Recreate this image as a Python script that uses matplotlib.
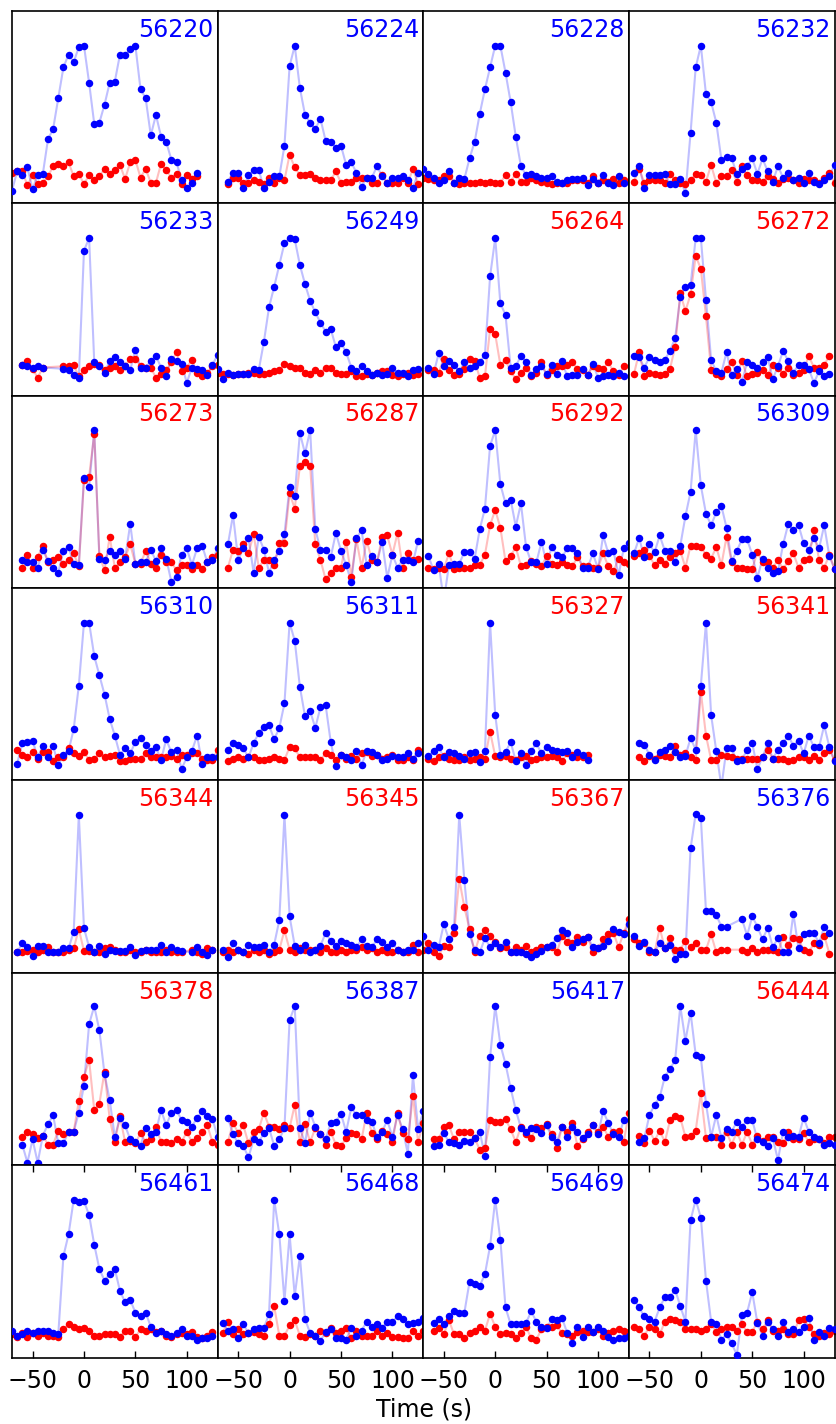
import numpy as np
import matplotlib.pyplot as plt

# Normalised light curves, 5 s bins; None = no data in that bin
mjds = [56220, 56224, 56228, 56232,
        56233, 56249, 56264, 56272,
        56273, 56287, 56292, 56309,
        56310, 56311, 56327, 56341,
        56344, 56345, 56367, 56376,
        56378, 56387, 56417, 56444,
        56461, 56468, 56469, 56474]
red_label = [56264, 56272, 56273, 56287, 56292, 56327, 56341,
             56344, 56345, 56367, 56378, 56444]
t_start = [-70, -60, -70, -65,
           -60, -70, -65, -65,
           -60, -60, -65, -65,
           -65, -60, -65, -60,
           -65, -65, -70, -65,
           -60, -60, -60, -60,
           -70, -65, -60, -65]

blue_56220 = [-0.15, 0.0, -0.03, 0.03, -0.14, -0.03, -0.02, 0.25, 0.33, 0.57, 0.81, 0.91, 0.85, 0.97, 0.98, 0.69, 0.37, 0.38, 0.52, 0.69, 0.70, 0.91, 0.91, 0.95, 0.98, 0.64, 0.57, 0.28, 0.44, 0.27, 0.23, 0.09, 0.07, -0.07, -0.13, -0.09, -0.01]
red_56220 = [-0.01, 0.0, 0.0, -0.11, -0.03, -0.10, -0.09, -0.04, 0.04, 0.06, 0.04, 0.07, -0.04, -0.02, -0.10, -0.03, -0.07, -0.04, 0.02, -0.02, 0.01, 0.05, -0.06, 0.07, 0.09, -0.05, 0.02, -0.09, -0.09, 0.06, 0.01, -0.05, -0.02, -0.10, -0.03, -0.06, -0.04]
blue_56224 = [-0.08, -0.01, -0.01, -0.13, -0.03, 0.01, 0.01, -0.13, -0.08, -0.04, -0.04, 0.20, 0.82, 0.98, 0.65, 0.44, 0.38, 0.33, 0.41, 0.24, 0.23, 0.18, 0.20, 0.05, 0.07, -0.01, -0.12, -0.05, -0.05, 0.04, -0.04, -0.09, -0.05, -0.05, -0.04, -0.07, -0.13, -0.01]
red_56224 = [-0.10, -0.05, -0.05, -0.09, -0.09, -0.07, -0.08, -0.10, -0.05, -0.09, -0.05, -0.07, 0.13, 0.03, -0.03, -0.03, -0.02, -0.05, -0.07, -0.07, -0.07, 0.0, -0.09, -0.08, -0.08, -0.05, -0.05, -0.05, -0.09, -0.09, -0.03, -0.09, -0.09, -0.09, -0.05, -0.09, 0.02, -0.10]
blue_56228 = [0.02, -0.02, -0.05, -0.09, -0.07, 0.0, -0.09, -0.05, -0.06, 0.10, 0.23, 0.45, 0.64, 0.81, 0.98, 0.98, 0.77, 0.54, 0.27, 0.04, -0.03, -0.02, -0.04, -0.05, -0.05, -0.04, -0.08, -0.09, -0.07, -0.06, -0.06, -0.05, -0.11, -0.06, -0.09, -0.03, -0.09, -0.11, -0.04, -0.09]
red_56228 = [-0.05, -0.06, -0.07, -0.07, -0.04, -0.04, -0.09, -0.10, -0.09, -0.09, -0.09, -0.08, -0.09, -0.08, -0.09, -0.09, -0.03, -0.08, -0.02, -0.08, -0.08, -0.05, -0.07, -0.08, -0.09, -0.10, -0.09, -0.09, -0.09, -0.07, -0.07, -0.07, -0.09, -0.04, -0.09, -0.07, -0.08, -0.06, -0.09, -0.07]
blue_56232 = [-0.01, 0.04, -0.13, -0.03, -0.03, -0.03, -0.02, -0.10, -0.10, -0.06, -0.17, 0.30, 0.81, 0.98, 0.60, 0.54, 0.38, 0.09, 0.11, 0.10, -0.02, 0.02, 0.04, 0.10, -0.02, 0.10, 0.0, -0.08, 0.04, -0.05, -0.01, -0.07, -0.05, -0.09, -0.01, -0.08, -0.10, -0.07, -0.04, 0.05]
red_56232 = [-0.08, 0.02, -0.09, -0.07, -0.07, -0.07, -0.09, -0.02, -0.07, -0.09, -0.10, -0.07, -0.02, -0.03, -0.08, 0.05, -0.09, -0.04, -0.04, 0.01, -0.08, 0.04, -0.03, -0.07, -0.07, -0.08, -0.04, -0.06, -0.09, -0.06, -0.05, -0.07, -0.09, -0.06, -0.07, -0.07, -0.09, -0.05, -0.01, -0.09]

blue_56233 = [-0.01, -0.02, -0.03, -0.02, -0.03, None, None, None, -0.04, -0.05, -0.09, -0.11, 0.88, 0.98, 0.01, -0.02, -0.07, 0.02, 0.05, 0.01, -0.02, -0.05, 0.11, -0.03, -0.03, 0.02, 0.06, -0.03, -0.10, 0.04, 0.02, 0.0, -0.15, -0.03, -0.04, -0.05, -0.09, -0.01, 0.07]
red_56233 = [-0.01, 0.02, -0.04, -0.11, -0.03, None, None, None, -0.02, -0.02, -0.01, -0.10, -0.05, -0.02, 0.0, -0.01, -0.05, -0.03, -0.02, -0.05, -0.02, 0.04, 0.04, -0.02, -0.03, -0.03, -0.11, -0.08, -0.05, 0.01, 0.09, -0.06, -0.03, 0.03, -0.07, -0.10, -0.07, -0.02, -0.01]
blue_56249 = [-0.04, -0.12, -0.07, -0.09, -0.08, -0.08, -0.08, -0.04, -0.05, 0.17, 0.44, 0.60, 0.77, 0.94, 0.98, 0.97, 0.77, 0.62, 0.49, 0.40, 0.32, 0.25, 0.27, 0.13, 0.16, 0.09, -0.03, -0.06, -0.02, -0.06, -0.09, -0.07, -0.09, -0.08, -0.03, -0.07, -0.07, -0.10, -0.05, -0.04]
red_56249 = [-0.07, -0.08, -0.08, -0.09, -0.08, -0.08, -0.07, -0.07, -0.08, -0.08, -0.07, -0.06, -0.05, 0.0, -0.02, -0.03, -0.03, -0.07, -0.08, -0.05, -0.07, -0.03, -0.03, -0.07, -0.08, -0.08, -0.06, -0.10, -0.10, -0.08, -0.09, -0.07, -0.06, -0.06, -0.09, -0.10, -0.08, -0.07, -0.09, -0.08]
blue_56264 = [-0.03, -0.08, 0.08, -0.02, 0.02, -0.01, -0.06, 0.01, -0.03, -0.02, 0.01, 0.07, 0.68, 0.98, 0.47, 0.38, -0.03, -0.02, 0.06, 0.01, -0.09, -0.04, -0.02, -0.08, -0.01, -0.08, 0.02, -0.10, -0.09, -0.09, -0.04, -0.09, 0.0, -0.11, -0.10, -0.09, -0.10, -0.07, -0.10]
red_56264 = [-0.05, -0.05, -0.07, 0.04, -0.05, -0.09, -0.08, -0.04, 0.04, 0.02, -0.11, -0.10, 0.27, 0.23, -0.01, 0.03, -0.06, -0.12, -0.07, -0.03, -0.10, -0.07, 0.01, -0.09, -0.05, -0.02, -0.02, -0.01, 0.01, -0.04, -0.05, -0.09, -0.02, -0.03, -0.04, 0.01, -0.06, -0.09, -0.02]
blue_56272 = [0.06, 0.05, -0.03, 0.05, 0.03, 0.01, 0.03, 0.10, 0.20, 0.52, 0.60, 0.61, 0.98, 0.98, 0.50, 0.03, -0.06, -0.07, 0.09, -0.09, -0.04, -0.14, 0.01, -0.01, -0.03, 0.01, 0.05, -0.12, -0.02, 0.10, 0.02, -0.07, -0.01, -0.01, -0.04, -0.15, -0.06, -0.10, -0.08]
red_56272 = [-0.08, 0.09, -0.10, -0.07, -0.08, -0.09, -0.08, -0.04, 0.13, 0.55, 0.41, 0.54, 0.84, 0.74, 0.37, -0.05, -0.08, -0.10, -0.04, 0.01, -0.09, 0.02, -0.10, -0.08, -0.07, -0.05, -0.09, -0.01, -0.03, -0.08, -0.03, -0.09, -0.07, -0.05, 0.06, -0.03, -0.03, -0.01, 0.06]

blue_56273 = [-0.03, -0.05, -0.05, -0.09, 0.05, -0.04, -0.09, -0.13, 0.04, 0.07, -0.06, -0.07, 0.61, 0.54, 0.98, -0.02, -0.03, 0.04, 0.01, 0.04, -0.02, 0.25, -0.06, -0.05, -0.05, 0.05, -0.04, 0.06, -0.02, -0.20, -0.16, 0.01, 0.06, -0.07, 0.06, 0.08, -0.05, -0.03, 0.06]
red_56273 = [-0.09, 0.01, -0.09, -0.01, 0.08, -0.05, -0.03, -0.01, -0.06, -0.03, 0.02, -0.08, 0.59, 0.62, 0.95, 0.0, -0.11, 0.15, -0.09, -0.05, -0.01, 0.09, -0.06, -0.06, 0.04, -0.06, -0.09, 0.01, -0.05, -0.05, -0.11, -0.07, -0.07, -0.10, -0.07, -0.10, -0.05, -0.01, 0.01]
blue_56287 = [0.09, 0.32, -0.03, 0.06, 0.14, -0.13, 0.15, 0.05, -0.13, -0.03, 0.04, 0.17, 0.54, 0.47, 0.96, 0.80, 0.98, 0.21, 0.05, 0.05, -0.01, 0.18, 0.04, -0.07, -0.20, 0.14, 0.20, -0.07, 0.0, -0.05, 0.11, -0.17, 0.01, -0.09, -0.03, -0.03, -0.05, 0.12]
red_56287 = [-0.09, 0.05, 0.04, 0.09, 0.02, 0.17, -0.09, -0.03, -0.03, -0.07, 0.10, 0.10, 0.49, 0.37, 0.70, 0.73, 0.70, 0.09, -0.03, -0.18, -0.13, -0.09, -0.09, 0.11, -0.16, 0.13, -0.09, 0.12, -0.03, -0.05, 0.15, 0.16, 0.01, 0.18, -0.09, 0.02, -0.03, -0.02]
blue_56292 = [0.0, -0.11, -0.06, -0.35, -0.07, -0.06, -0.06, 0.03, 0.03, -0.02, 0.21, 0.37, 0.86, 0.98, 0.56, 0.41, 0.44, 0.23, 0.41, 0.07, -0.05, -0.05, 0.11, -0.06, 0.07, 0.01, -0.01, 0.06, 0.06, 0.02, -0.09, -0.09, 0.02, -0.10, 0.16, 0.02, 0.04, -0.15, 0.06, 0.10]
red_56292 = [-0.09, -0.10, -0.09, -0.10, 0.02, -0.10, -0.09, -0.09, -0.09, -0.07, -0.07, 0.01, 0.24, 0.36, 0.22, -0.04, 0.0, 0.07, -0.08, -0.07, -0.04, -0.06, -0.08, 0.0, -0.06, -0.07, -0.05, -0.07, -0.08, -0.01, -0.08, -0.08, -0.09, -0.09, 0.02, -0.08, -0.12, -0.02, -0.05, -0.06]
blue_56309 = [0.02, 0.14, -0.01, 0.09, 0.03, 0.16, 0.04, 0.04, -0.05, 0.08, 0.31, 0.50, 0.98, 0.55, 0.33, 0.24, 0.34, 0.39, 0.22, -0.04, 0.04, 0.13, 0.13, 0.01, -0.17, -0.02, -0.09, -0.13, -0.12, 0.09, 0.25, 0.20, 0.24, 0.10, 0.05, 0.14, 0.06, 0.24, 0.0, -0.10]
red_56309 = [0.0, 0.02, 0.05, 0.0, -0.07, -0.03, -0.06, -0.01, 0.02, 0.04, -0.09, 0.08, 0.08, 0.07, 0.01, -0.02, 0.07, -0.07, 0.15, -0.05, -0.09, -0.09, -0.10, -0.10, 0.03, -0.05, -0.05, -0.09, -0.03, -0.10, -0.04, 0.02, -0.09, -0.03, -0.02, 0.20, -0.03, -0.09, 0.01, -0.10]

blue_56310 = [-0.12, 0.04, 0.05, 0.06, -0.07, 0.02, -0.07, 0.02, -0.13, -0.05, -0.02, 0.15, 0.49, 0.98, 0.98, 0.72, 0.57, 0.42, 0.23, 0.10, -0.05, 0.0, -0.04, 0.05, 0.08, 0.03, -0.02, 0.01, -0.09, 0.07, -0.03, -0.01, -0.16, -0.07, -0.02, 0.10, -0.12, -0.07, -0.07, -0.07]
red_56310 = [-0.01, -0.05, -0.07, -0.03, -0.08, -0.03, -0.03, -0.10, -0.07, -0.07, 0.0, -0.04, -0.06, -0.03, -0.09, -0.08, -0.04, -0.07, -0.06, -0.05, -0.10, -0.10, -0.08, -0.08, -0.08, -0.04, -0.07, -0.07, -0.07, -0.07, -0.06, -0.08, -0.05, -0.05, -0.04, -0.04, -0.08, -0.09, -0.09, -0.01]
blue_56311 = [-0.01, 0.04, 0.03, 0.0, -0.07, 0.04, 0.12, 0.17, 0.18, 0.07, 0.16, 0.35, 0.98, 0.84, 0.48, 0.25, 0.29, 0.16, 0.32, 0.34, 0.05, -0.14, -0.05, -0.07, -0.09, -0.02, -0.13, -0.02, -0.03, -0.05, -0.09, -0.08, -0.06, -0.07, -0.07, -0.04, -0.08, -0.04]
red_56311 = [-0.10, -0.08, -0.07, -0.08, -0.07, -0.07, -0.09, -0.09, -0.08, -0.07, -0.08, -0.09, 0.01, 0.0, -0.07, -0.07, -0.07, -0.07, -0.09, -0.04, -0.05, -0.09, -0.05, -0.08, -0.06, -0.08, -0.04, -0.03, -0.06, -0.05, -0.08, -0.07, -0.05, -0.09, -0.09, -0.07, -0.09, -0.01]
blue_56327 = [-0.06, -0.02, 0.01, -0.07, -0.03, -0.04, -0.06, -0.08, -0.04, -0.03, -0.11, -0.02, 0.98, 0.26, -0.05, -0.03, 0.05, -0.10, -0.04, -0.13, -0.02, 0.04, -0.04, 0.01, -0.01, -0.02, -0.03, -0.02, -0.07, -0.03, -0.05, -0.09]
red_56327 = [-0.08, -0.10, -0.07, -0.06, -0.08, -0.09, -0.09, -0.07, -0.09, -0.08, -0.07, -0.08, 0.13, -0.06, -0.07, -0.06, -0.08, -0.09, -0.07, -0.06, -0.09, -0.08, -0.07, -0.07, -0.06, -0.07, -0.10, -0.04, -0.05, -0.07, -0.07, -0.05]
blue_56341 = [0.04, 0.03, -0.05, -0.09, -0.03, -0.01, 0.02, -0.03, -0.07, -0.06, 0.08, -0.01, 0.49, 0.98, 0.26, -0.02, -0.30, 0.0, 0.0, -0.10, -0.09, -0.01, 0.04, -0.16, -0.07, 0.04, -0.08, -0.01, 0.04, 0.10, 0.02, 0.06, -0.04, 0.10, 0.01, 0.01, 0.18, 0.01, -0.10]
red_56341 = [-0.07, -0.10, -0.06, -0.08, -0.05, -0.06, -0.07, 0.02, -0.05, -0.04, -0.07, -0.09, 0.44, 0.10, -0.09, -0.09, -0.05, -0.06, -0.07, -0.08, -0.08, -0.08, -0.08, -0.08, -0.07, -0.01, -0.08, -0.08, -0.08, -0.10, -0.09, -0.07, -0.07, -0.09, -0.06, -0.09, -0.04, -0.01, -0.09]

blue_56344 = [-0.09, -0.02, -0.05, -0.12, -0.04, -0.04, -0.09, -0.09, -0.09, -0.06, -0.06, 0.07, 0.98, 0.10, -0.05, -0.09, -0.04, -0.10, -0.07, -0.08, -0.08, -0.08, -0.05, -0.11, -0.08, -0.07, -0.07, -0.07, -0.03, -0.09, -0.05, -0.07, -0.08, None, -0.09, -0.05, -0.09, -0.11, -0.07]
red_56344 = [-0.09, -0.09, -0.08, -0.07, -0.09, -0.07, -0.05, -0.09, -0.09, -0.09, -0.07, -0.06, 0.09, -0.08, -0.08, -0.09, -0.09, -0.06, -0.05, -0.07, -0.09, -0.09, -0.07, -0.09, -0.09, -0.07, -0.09, -0.09, -0.09, -0.07, -0.09, -0.09, -0.09, None, -0.07, -0.09, -0.10, -0.06, -0.07]
blue_56345 = [-0.07, -0.13, -0.02, -0.07, -0.09, -0.03, -0.05, -0.05, -0.03, -0.09, -0.03, 0.16, 0.98, 0.19, -0.04, -0.07, -0.03, -0.09, -0.07, -0.04, 0.06, 0.0, -0.04, 0.0, -0.02, -0.03, -0.05, 0.01, -0.04, -0.05, 0.01, -0.01, -0.05, -0.02, -0.07, -0.09, -0.07, -0.07, -0.02]
red_56345 = [-0.09, -0.07, -0.09, -0.07, -0.09, -0.10, -0.07, -0.09, -0.07, -0.10, -0.09, -0.07, 0.08, -0.07, -0.09, -0.06, -0.07, -0.07, -0.07, -0.09, -0.06, -0.09, -0.09, -0.07, -0.09, -0.07, -0.07, -0.05, -0.07, -0.06, -0.09, -0.07, -0.09, -0.09, -0.07, -0.09, -0.09, -0.03, -0.09]
blue_56367 = [0.04, -0.07, -0.03, -0.05, 0.13, 0.01, 0.11, 0.98, 0.47, 0.05, -0.07, -0.09, 0.02, -0.05, -0.02, -0.05, -0.01, -0.09, -0.09, -0.09, -0.10, -0.13, -0.10, -0.08, -0.05, -0.03, 0.02, 0.08, 0.06, -0.05, -0.01, 0.01, 0.03, -0.05, -0.06, -0.04, 0.0, 0.09, 0.07, 0.05, 0.13]
red_56367 = [-0.07, -0.02, -0.09, -0.12, -0.04, -0.05, 0.06, 0.48, 0.26, 0.09, -0.09, 0.04, 0.08, 0.04, -0.01, -0.06, -0.05, -0.09, -0.05, -0.07, -0.04, -0.09, -0.07, -0.05, -0.05, -0.05, -0.09, 0.04, -0.01, -0.02, 0.03, -0.01, 0.03, -0.09, -0.06, 0.01, 0.05, 0.06, -0.05, 0.06, 0.17]
blue_56376 = [0.04, -0.04, -0.01, -0.07, -0.09, -0.02, -0.06, -0.03, -0.14, -0.10, -0.10, 0.72, 0.99, 0.96, 0.23, 0.23, 0.20, 0.11, 0.11, None, None, 0.17, 0.04, 0.19, 0.11, 0.01, 0.10, -0.05, 0.02, -0.09, -0.09, 0.21, -0.06, 0.05, 0.06, 0.06, -0.02, 0.11, 0.06]
red_56376 = [0.01, -0.02, -0.02, -0.09, -0.09, 0.10, -0.06, 0.02, -0.07, -0.07, 0.0, -0.05, -0.02, -0.07, -0.07, 0.05, -0.09, -0.07, -0.07, None, None, -0.07, -0.09, -0.06, -0.09, -0.07, -0.07, -0.07, -0.09, 0.03, -0.03, 0.02, 0.01, -0.07, -0.09, -0.02, -0.03, 0.04, -0.10]

blue_56378 = [-0.09, -0.23, -0.05, -0.23, -0.02, 0.07, 0.14, -0.08, -0.08, 0.01, 0.01, 0.16, 0.37, 0.85, 0.99, 0.80, 0.46, 0.26, -0.03, 0.12, 0.06, -0.05, -0.07, -0.10, 0.04, -0.01, 0.01, 0.18, 0.06, 0.16, 0.18, 0.10, 0.09, 0.05, 0.12, 0.17, 0.13, 0.11, -0.03]
red_56378 = [-0.03, 0.01, -0.01, -0.04, -0.02, -0.09, -0.09, 0.02, -0.01, 0.01, 0.01, 0.25, 0.44, 0.57, 0.18, 0.23, 0.48, 0.11, -0.07, 0.13, -0.07, -0.06, -0.08, 0.0, -0.07, -0.05, 0.05, -0.07, -0.07, -0.08, -0.05, -0.07, 0.01, -0.07, -0.04, 0.01, 0.06, -0.07, -0.09]
blue_56387 = [0.12, -0.01, -0.08, -0.10, -0.19, -0.05, -0.07, 0.0, 0.04, -0.10, -0.05, 0.04, 0.88, 0.99, 0.04, -0.08, 0.16, 0.05, -0.01, -0.05, 0.08, 0.09, 0.15, 0.01, 0.20, 0.14, 0.14, 0.10, 0.09, -0.03, 0.01, 0.10, -0.03, 0.14, 0.03, -0.16, 0.45, 0.03, 0.17]
red_56387 = [-0.07, 0.08, 0.0, 0.06, -0.08, 0.01, 0.03, 0.16, 0.05, 0.05, 0.03, 0.06, 0.04, 0.22, -0.07, 0.07, -0.07, 0.04, -0.01, -0.09, 0.01, -0.09, -0.10, -0.04, 0.0, -0.01, -0.05, 0.16, 0.0, -0.05, 0.02, -0.01, -0.07, 0.16, 0.0, -0.05, 0.29, -0.07, 0.08]
blue_56417 = [-0.10, -0.09, 0.0, -0.07, -0.08, -0.09, -0.06, -0.07, -0.04, 0.01, -0.18, 0.59, 0.99, 0.69, 0.54, 0.35, 0.18, 0.04, 0.01, 0.04, 0.03, 0.0, 0.06, -0.03, -0.07, 0.05, -0.03, 0.05, 0.01, -0.04, -0.01, 0.06, -0.01, 0.17, 0.08, -0.01, -0.03, 0.10]
red_56417 = [-0.05, -0.05, 0.05, 0.06, -0.05, 0.01, 0.01, 0.01, -0.04, -0.13, -0.12, 0.10, 0.09, 0.09, 0.11, 0.03, -0.07, 0.05, -0.01, -0.04, 0.05, 0.04, 0.07, -0.01, -0.12, 0.05, 0.01, 0.08, -0.10, -0.05, 0.01, 0.06, 0.01, 0.05, -0.03, 0.01, 0.02, -0.07, 0.16]
blue_56444 = [-0.07, -0.04, 0.14, 0.22, 0.28, 0.44, 0.50, 0.57, 0.99, 0.72, 0.94, 0.61, 0.59, 0.23, -0.03, 0.14, -0.04, 0.03, 0.01, 0.09, 0.05, 0.10, 0.10, -0.05, -0.07, -0.10, -0.04, -0.21, 0.01, -0.03, -0.02, -0.03, 0.12, 0.01, -0.03, -0.05, -0.09, -0.08, -0.09]
red_56444 = [-0.02, -0.08, 0.02, -0.06, 0.02, -0.07, 0.10, 0.13, 0.12, -0.03, -0.02, 0.02, 0.31, -0.04, -0.03, -0.03, -0.09, 0.01, -0.09, 0.01, -0.09, 0.01, -0.09, -0.02, -0.06, -0.03, -0.03, -0.07, -0.08, 0.01, -0.05, -0.05, 0.0, -0.07, -0.05, -0.05, -0.08, -0.03, -0.03]

blue_56461 = [-0.04, -0.08, -0.07, -0.04, -0.06, -0.04, -0.04, -0.04, -0.06, -0.07, 0.54, 0.71, 0.98, 0.96, 0.97, 0.86, 0.63, 0.44, 0.35, 0.40, 0.44, 0.27, 0.18, 0.20, 0.10, 0.07, 0.10, -0.01, -0.06, -0.04, -0.07, -0.08, -0.06, -0.03, -0.08, -0.08, -0.11, -0.10, -0.10, -0.08]
red_56461 = [-0.07, -0.09, -0.06, -0.09, -0.06, -0.08, -0.06, -0.08, -0.08, -0.09, -0.03, 0.01, -0.01, -0.03, -0.02, -0.04, -0.08, -0.08, -0.07, -0.07, -0.07, -0.09, -0.04, -0.04, -0.09, -0.03, -0.04, -0.03, -0.05, -0.04, -0.08, -0.09, -0.07, -0.06, -0.07, -0.05, -0.09, -0.10, -0.08, -0.05]
blue_56468 = [0.02, -0.04, -0.03, -0.10, 0.01, -0.06, -0.03, -0.02, -0.02, 0.09, 0.98, 0.71, 0.19, 0.71, 0.23, 0.54, 0.05, -0.06, -0.08, -0.12, -0.05, -0.03, -0.10, -0.10, -0.11, -0.02, -0.08, -0.04, 0.03, -0.01, 0.01, -0.02, 0.03, 0.03, 0.07, 0.05, 0.01, 0.02, 0.03, 0.06]
red_56468 = [-0.06, 0.03, -0.07, -0.03, -0.07, -0.06, -0.05, -0.07, -0.08, 0.01, 0.15, -0.08, -0.08, 0.0, 0.04, -0.08, -0.09, -0.07, -0.08, -0.04, -0.06, -0.02, -0.06, -0.04, -0.02, -0.10, -0.04, -0.08, -0.08, -0.08, -0.04, -0.08, -0.06, -0.09, -0.09, -0.10, -0.10, -0.04, -0.08, -0.04]
blue_56469 = [0.02, 0.05, 0.01, 0.07, 0.11, 0.10, 0.10, 0.34, 0.32, 0.31, 0.40, 0.62, 0.98, 0.67, 0.14, 0.01, 0.01, 0.01, 0.02, 0.11, 0.03, -0.01, -0.02, 0.05, 0.04, 0.06, -0.06, -0.14, -0.01, -0.09, -0.01, -0.05, -0.01, -0.04, -0.09, -0.11, -0.10, -0.10, -0.08]
red_56469 = [-0.04, -0.02, -0.07, 0.04, -0.07, -0.07, -0.10, -0.06, -0.04, -0.01, -0.04, 0.09, -0.01, -0.07, -0.06, -0.07, -0.10, -0.06, -0.01, -0.10, -0.11, -0.03, -0.01, -0.01, 0.0, -0.06, -0.07, -0.08, -0.05, -0.04, -0.05, -0.05, -0.03, -0.08, -0.06, -0.04, -0.03, -0.04, -0.05]
blue_56474 = [0.20, 0.14, 0.07, 0.05, 0.03, 0.14, 0.22, 0.22, 0.28, 0.15, 0.03, 0.82, 0.98, 0.84, 0.35, 0.03, 0.01, -0.11, -0.07, -0.14, -0.23, 0.08, 0.10, 0.26, 0.02, -0.08, 0.03, -0.03, -0.08, 0.03, -0.05, -0.03, -0.05, -0.01, 0.06, -0.11, -0.05, -0.08, -0.02, -0.03]
red_56474 = [-0.01, -0.03, -0.08, -0.01, -0.03, -0.07, 0.03, 0.05, 0.04, 0.03, -0.03, -0.03, -0.03, -0.04, -0.03, 0.01, -0.05, -0.03, -0.01, -0.01, -0.04, 0.01, -0.05, -0.05, 0.03, -0.03, 0.04, -0.04, -0.04, -0.03, -0.07, -0.07, 0.04, 0.05, -0.01, -0.07, -0.08, -0.06, -0.07, -0.04]

blue_curves = [blue_56220, blue_56224, blue_56228, blue_56232,
               blue_56233, blue_56249, blue_56264, blue_56272,
               blue_56273, blue_56287, blue_56292, blue_56309,
               blue_56310, blue_56311, blue_56327, blue_56341,
               blue_56344, blue_56345, blue_56367, blue_56376,
               blue_56378, blue_56387, blue_56417, blue_56444,
               blue_56461, blue_56468, blue_56469, blue_56474]
red_curves = [red_56220, red_56224, red_56228, red_56232,
              red_56233, red_56249, red_56264, red_56272,
              red_56273, red_56287, red_56292, red_56309,
              red_56310, red_56311, red_56327, red_56341,
              red_56344, red_56345, red_56367, red_56376,
              red_56378, red_56387, red_56417, red_56444,
              red_56461, red_56468, red_56469, red_56474]


def curve(t0, vals):
    y = np.array([np.nan if v is None else v for v in vals], dtype=float)
    t = t0 + 5.0 * np.arange(len(y))
    ok = ~np.isnan(y)
    return t[ok], y[ok]


fig, axes = plt.subplots(7, 4, figsize=(8.36, 14.24), dpi=100,
                         sharex=True, sharey=True)
fig.subplots_adjust(left=12 / 836, right=834.5 / 836, top=1 - 11 / 1424,
                    bottom=1 - 1357.5 / 1424, wspace=0, hspace=0)

for i, ax in enumerate(axes.flat):
    tb, yb = curve(t_start[i], blue_curves[i])
    tr, yr = curve(t_start[i], red_curves[i])
    ax.plot(tb, yb, '-', color='b', alpha=0.25, lw=1.5, zorder=1)
    ax.plot(tr, yr, '-', color='r', alpha=0.25, lw=1.5, zorder=1)
    ax.plot(tr, yr, 'o', color='r', ms=5.4, mew=0, zorder=2)
    ax.plot(tb, yb, 'o', color='b', ms=5.4, mew=0, zorder=3)

    col = 'r' if mjds[i] in red_label else 'b'
    ax.text(0.98, 0.965, str(mjds[i]), transform=ax.transAxes,
            ha='right', va='top', fontsize=17, color=col)

    ax.set_xlim(-70, 130)
    ax.set_ylim(-0.25, 1.25)
    ax.set_yticks([])
    for s in ax.spines.values():
        s.set_linewidth(1.2)
    ax.tick_params(axis='x', direction='in', top=True, bottom=True,
                   length=5, width=1, labelsize=17, pad=8)
    if i < 24:
        ax.tick_params(axis='x', top=False, bottom=False)

axes[-1, 0].set_xticks([-50, 0, 50, 100])
fig.text(0.507, 1 - 1409 / 1424, 'Time (s)', ha='center', va='center',
         fontsize=17)

fig.savefig('out.png', dpi=100)
